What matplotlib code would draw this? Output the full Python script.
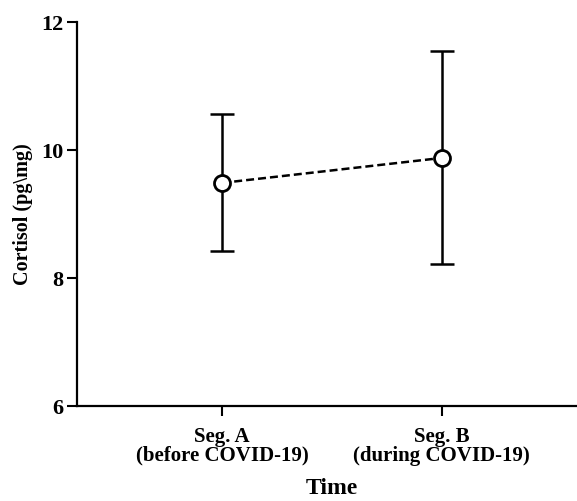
import matplotlib.pyplot as plt

segments = ['Seg. A\n(before COVID-19)', 'Seg. B\n(during COVID-19)']
means = [9.48, 9.87]
lower = [8.41, 8.21]
upper = [10.55, 11.54]
yticks = [6, 8, 10, 12]

plt.rcParams['font.family'] = ['Liberation Serif', 'DejaVu Serif']
plt.rcParams['font.weight'] = 'bold'

fig = plt.figure(figsize=(5.77, 5.02), dpi=100)
ax = fig.add_axes([0.134, 0.19, 0.883, 0.765])

x = list(range(len(means)))
err = [[m - l for m, l in zip(means, lower)], [u - m for m, u in zip(means, upper)]]
ax.errorbar(x, means, yerr=err, fmt='none', ecolor='black', elinewidth=1.8,
            capsize=8.5, capthick=1.8, zorder=2)
ax.plot(x, means, ls='--', color='black', lw=1.8, dashes=(3.2, 1.6), zorder=3)
ax.plot(x, means, ls='none', marker='o', ms=11.5, mfc='white', mec='black',
        mew=2, zorder=4)

ax.set_xlim(-0.66, 1.66)
ax.set_ylim(6, 12)
ax.set_yticks(yticks)
ax.set_xticks(x)
ax.set_xticklabels(segments, fontsize=15, fontweight='bold', linespacing=0.9)
ax.tick_params(axis='y', labelsize=16, length=7, width=1.5, pad=3)
ax.tick_params(axis='x', length=7, width=1.5, pad=8)
for lab in ax.get_yticklabels():
    lab.set_fontweight('bold')

for s in ['top', 'right']:
    ax.spines[s].set_visible(False)
for s in ['left', 'bottom']:
    ax.spines[s].set_linewidth(1.6)

ax.set_xlabel('Time', fontsize=17, fontweight='bold', labelpad=9)
ax.set_ylabel('Cortisol (pg\\mg)', fontsize=14.5, fontweight='bold', labelpad=6)

fig.savefig('out.png', dpi=100)
